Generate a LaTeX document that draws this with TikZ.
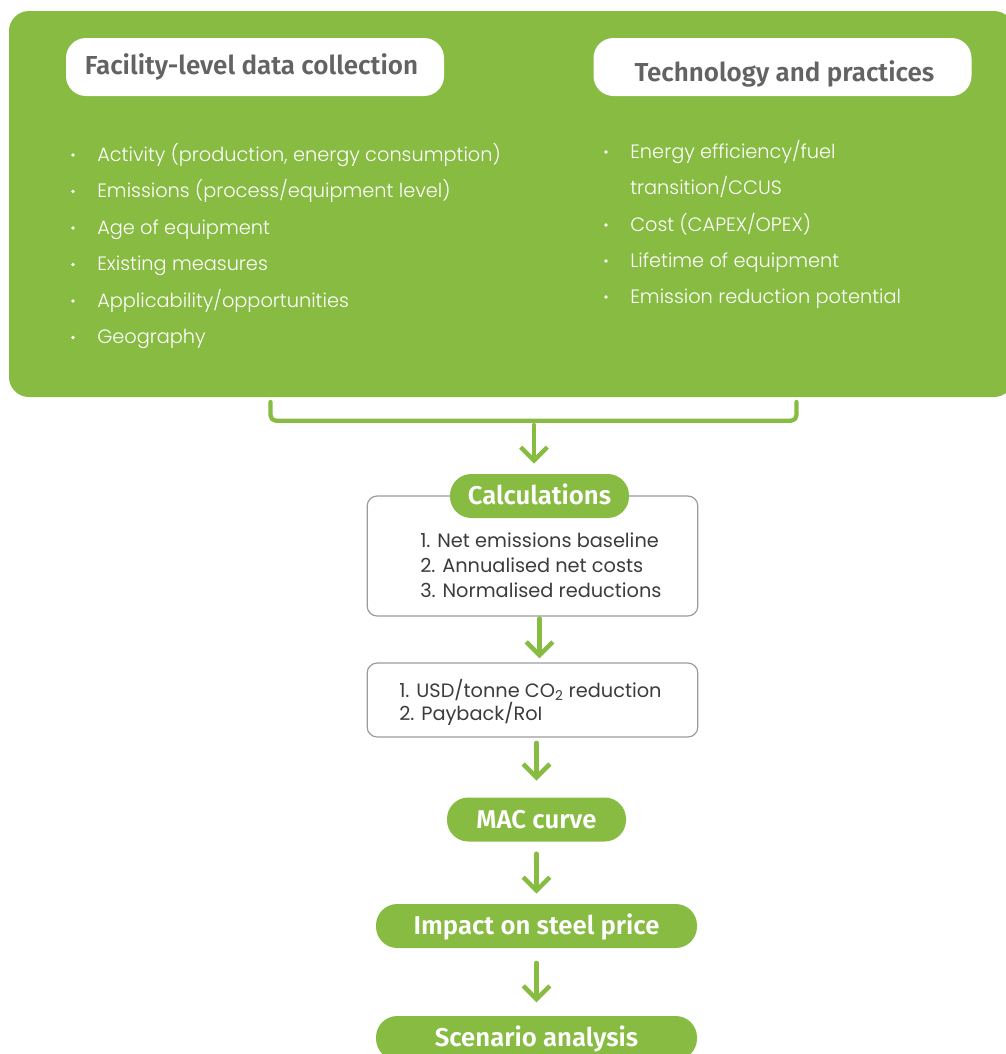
\documentclass[tikz,border=0pt]{standalone}
\usepackage{fontspec}
\setmainfont{Poppins}[UprightFont=* Light]
\newfontfamily\boxfont{Poppins}
\newfontfamily\headfont{Fira Sans}[UprightFont=* SemiBold]
\usetikzlibrary{arrows.meta}

\definecolor{leaf}{HTML}{87BB41}
\definecolor{headgray}{HTML}{636363}
\definecolor{boxgray}{HTML}{3C3C3C}
\definecolor{rimgray}{HTML}{9B9B9B}

\tikzset{
  headbox/.style={fill=white, rounded corners=15pt, minimum width=283.5pt, minimum height=43.5pt},
  headtext/.style={text=headgray, font=\headfont\fontsize{19.5}{23}\selectfont, anchor=base},
  item/.style={text=white, font=\fontsize{14.5}{17}\selectfont, anchor=base west, inner sep=0pt},
  pill/.style={fill=leaf, text=white, rounded corners=16pt, minimum height=33pt,
    text height=13.2pt, text depth=0pt, font=\headfont\fontsize{19.3}{22}\selectfont},
  grayframe/.style={draw=rimgray, line width=0.9pt, rounded corners=7.5pt, minimum width=248pt},
  boxline/.style={text=boxgray, font=\boxfont\fontsize{14.5}{17}\selectfont, anchor=base west, inner sep=0pt},
  flow/.style={leaf, line width=3.4pt, -{Straight Barb[length=10pt, width=20pt]}},
}

\begin{document}
\begin{tikzpicture}[x=0.75pt, y=-0.75pt, line cap=round, line join=round]
\clip (0,0) rectangle (1006,1054);

%green panel with the two inputs
\fill[leaf, rounded corners=15pt] (9,11) rectangle (1014,397);
\node[headbox] (fac) at (255,67) {};
\node[headtext] at (251.5,74) {Facility-level data collection};
\node[headbox] (tech) at (782.5,67) {};
\node[headtext] at (784.5,81) {Technology and practices};

%bullet lists
\foreach \y/\txt in {161/{Activity (production, energy consumption)},
    197.5/{Emissions (process/equipment level)}, 234/{Age of equipment},
    270.5/{Existing measures}, 307/{Applicability/opportunities}, 343.5/{Geography}}
{
  \fill[white] (73,\y-6) circle (1.4pt);
  \node[item] at (97,\y) {\txt};
}
\foreach \y/\txt in {158/{Energy efficiency/fuel}, 231/{Cost (CAPEX/OPEX)},
    267/{Lifetime of equipment}, 303/{Emission reduction potential}}
{
  \fill[white] (606,\y-6) circle (1.4pt);
  \node[item] at (630,\y) {\txt};
}
\node[item] at (630,194) {transition/CCUS};

%bracket joining both columns
\draw[leaf, line width=3.2pt, rounded corners=4pt] (270.5,402) |- (796.5,420.7) -- (796.5,402);
\coordinate (brk) at (534,423);

%calculation steps
\node[grayframe, minimum height=90pt] (calcbox) at (532.5,556) {};
\node[pill, minimum width=134.25pt] (calcpill) at (539.5,496) {Calculations};
\foreach \y/\txt in {547/{1. Net emissions baseline}, 572/{2. Annualised net costs},
    597/{3. Normalised reductions}}
  \node[boxline] at (420,\y) {\txt};

\node[grayframe, minimum height=55.5pt] (usd) at (532.5,700) {};
\node[boxline] at (399,697) {1. USD/tonne CO\textsubscript{2} reduction};
\node[boxline] at (399,720) {2. Payback/RoI};

\node[pill, minimum width=134.25pt] (mac) at (536.5,819.5) {MAC curve};
\node[pill, minimum width=240.75pt] (impact) at (536.5,926) {Impact on steel price};
\node[pill, minimum width=240.75pt] (scen) at (536.5,1038) {Scenario analysis};

%arrows
\draw[flow, shorten <=1.5pt, shorten >=7.5pt] (brk) -- (brk |- calcpill.north);
\draw[flow, shorten <=1.5pt, shorten >=3pt] (calcpill |- calcbox.south) -- (calcpill |- usd.north);
\draw[flow, shorten <=4pt, shorten >=12.5pt] (mac |- usd.south) -- (mac.north);
\draw[flow, shorten <=9pt, shorten >=7.5pt] (mac.south) -- (impact.north);
\draw[flow, shorten <=11pt, shorten >=10pt] (impact.south) -- (scen.north);

\end{tikzpicture}
\end{document}
